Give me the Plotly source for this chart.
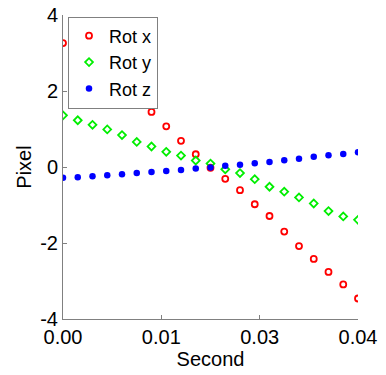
import plotly.graph_objects as go

time_s = [i * 0.002 for i in range(21)]
rot_x = [3.26, 2.97, 2.68, 2.39, 2.10, 1.81, 1.45, 1.07, 0.69, 0.335, -0.02,
         -0.31, -0.61, -0.98, -1.29, -1.70, -2.08, -2.42, -2.76, -3.09, -3.46]
rot_y = [1.36, 1.23, 1.11, 0.99, 0.84, 0.66, 0.54, 0.40, 0.30, 0.17, 0.09,
         -0.06, -0.16, -0.32, -0.52, -0.65, -0.80, -0.96, -1.16, -1.30, -1.39]
rot_z = [-0.28, -0.27, -0.245, -0.22, -0.19, -0.16, -0.13, -0.105, -0.08, -0.04, -0.01,
         0.03, 0.06, 0.10, 0.13, 0.18, 0.22, 0.27, 0.31, 0.34, 0.39]

x_tickvals = [0.0, 0.04 / 3, 0.08 / 3, 0.04]
x_ticktext = ["0.00", "0.01", "0.03", "0.04"]
y_tickvals = [-4, -2, 0, 2, 4]
y_ticktext = ["-4", "-2", "0", "2", "4"]

FONT = "Liberation Sans, Arial, sans-serif"

fig = go.Figure()
fig.add_trace(go.Scatter(x=time_s, y=rot_x, mode="markers", name="Rot x",
                         marker=dict(symbol="circle-open", size=6, color="#ff0000",
                                     line=dict(width=1.8, color="#ff0000"))))
fig.add_trace(go.Scatter(x=time_s, y=rot_y, mode="markers", name="Rot y",
                         marker=dict(symbol="diamond-open", size=6, color="#00ee00",
                                     line=dict(width=1.8, color="#00ee00"))))
fig.add_trace(go.Scatter(x=time_s, y=rot_z, mode="markers", name="Rot z",
                         marker=dict(symbol="circle", size=6.5, color="#0000ff")))

fig.update_layout(
    width=386, height=375,
    margin=dict(l=63, r=28, t=15, b=56),
    paper_bgcolor="white", plot_bgcolor="white",
    font=dict(family=FONT, size=20, color="black"),
    showlegend=True,
    legend=dict(x=0.017, y=0.995, xanchor="left", yanchor="top",
                bgcolor="white", bordercolor="#808080", borderwidth=1,
                font=dict(family=FONT, size=18, color="black")),
)
fig.update_xaxes(range=[0, 0.04], tickvals=x_tickvals, ticktext=x_ticktext,
                 automargin=False,
                 showgrid=False, zeroline=False, showline=True, linecolor="#808080",
                 linewidth=1, ticks="inside", ticklen=4, tickcolor="#808080",
                 tickfont=dict(size=20, color="black"),
                 title=dict(text="Second", font=dict(size=20), standoff=0))
fig.update_yaxes(range=[-4, 4], tickvals=y_tickvals, ticktext=y_ticktext,
                 automargin=False,
                 showgrid=False, zeroline=False, showline=True, linecolor="#808080",
                 linewidth=1, ticks="inside", ticklen=4, tickcolor="#808080",
                 tickfont=dict(size=20, color="black"),
                 title=dict(text="Pixel", font=dict(size=20), standoff=3))

fig.write_html("out.html", config={"displayModeBar": False},
               post_script="document.body.style.margin='0';")
